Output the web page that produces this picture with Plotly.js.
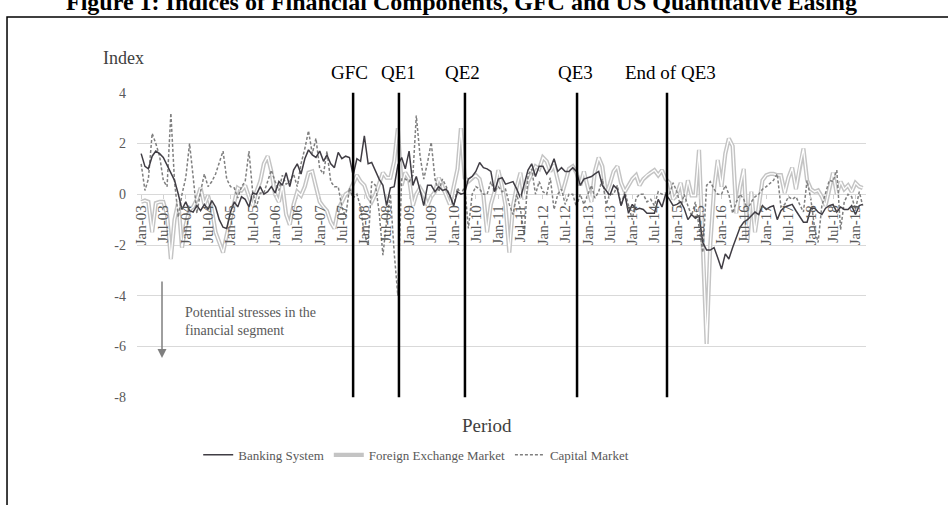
<!DOCTYPE html>
<html>
<head>
<meta charset="utf-8">
<script src="https://cdn.plot.ly/plotly-3.0.1.min.js"></script>
<style>html,body{margin:0;padding:0;background:#fff;}#chart{width:948px;height:505px;}</style>
</head>
<body>
<div id="chart"></div>
<script>
// Monthly observations, Jan-2003 onwards
const startYear = 2003;
const banking = [
  1.6, 1.1, 1.0, 1.5, 1.7, 1.6, 1.45, 1.15, 0.85, 0.55, 0.0, -0.6,
  -0.3, -0.65, -0.7, -0.45, -0.65, -0.4, -0.6, -0.25, -0.5, -1.0, -1.3, -1.35,
  -0.7, -0.3, -0.5, -0.1, -0.2, -0.5, 0.05, 0.0, 0.3, 0.0, 0.1, 0.3,
  0.05, 0.5, 0.35, 0.85, 0.3, 0.95, 1.2, 0.8, 1.4, 1.75, 1.55, 1.45,
  1.7, 1.3, 1.55, 1.2, 1.05, 1.65, 1.4, 1.5, 1.45, 0.75, 1.4, 1.3,
  2.3, 1.2, 1.25, 0.9, 0.6, 0.35, -0.45, 0.25, 0.3, 1.15, 1.45, 1.0,
  1.7, 0.35, 0.7, 0.15, -0.45, 0.35, 0.35, 0.1, 0.3, 0.15, 0.2, -0.05,
  -0.45, 0.1, 0.0, 0.05, 0.6, 0.7, 0.9, 1.25, 1.05, 1.0, 0.9, 0.1,
  0.6, 0.65, 0.4, 0.45, 0.5, 0.2, -0.15, 0.4, 0.95, 1.2, 0.7, 1.1,
  1.1, 0.8, 1.0, 1.4, 0.9, 1.05, 0.9, 0.9, 1.05, 0.9, 0.35, 0.6,
  0.65, 0.7, 0.8, 0.9, 0.35, 0.15, -0.05, 0.35, 0.2, -0.45, 0.0, -0.75,
  -0.4, -0.6, -0.55, -0.6, -0.75, -0.75, -0.75, -0.2, -0.5, 0.0, -0.2, -0.45,
  -0.4, -0.3, -0.55, -1.0, -0.8, -0.95, -0.85, -1.9, -2.2, -2.2, -2.1, -2.5,
  -2.95, -2.35, -2.55, -2.1, -1.7, -1.3, -1.1, -1.0, -0.85, -0.7, -0.8, -0.45,
  -0.6, -0.5, -0.45, -1.0, -0.65, -0.5, -0.45, -0.4, -0.65, -0.9, -1.1, -1.1,
  -0.55, -0.55, -0.7, -0.8, -0.55, -0.45, -0.4, -0.7, -0.5, -0.6, -0.6, -0.45,
  -0.8, -0.45, -0.4
];
const fxMarket = [
  -0.3, -0.25, -0.3, -1.5, -0.35, -0.3, -0.3, -0.8, -2.55, -1.0, -0.3, -2.1,
  -1.2, -0.6, -0.5, -0.2, 0.25, -0.4, -0.05, -0.6, -1.5, -1.9, -2.3, -1.6,
  -0.95, -0.4, 0.25, 0.15, 0.35, -0.1, -0.45, 0.1, 0.5, 1.2, 1.5, 0.9,
  0.0, -0.3, 0.35, -0.8, -1.2, -0.4, 0.1, -0.05, 0.3, 0.85, 0.9, 0.3,
  -0.3, -0.5, -0.65, -1.1, -1.35, -0.6, -0.3, 0.0, 0.1, 0.4, 0.75, 0.5,
  0.35, -0.1, -0.3, 0.0, 0.4, 0.85, 0.65, 0.65, 1.3, 2.6, 0.35, 0.85,
  0.6, -0.45, 0.0, 0.25, 0.0, -0.45, -0.1, 0.1, 0.65, 0.3, -0.1, -0.4,
  0.3, 1.0, 2.6, 0.65, 0.5, 0.65, 0.75, 0.6, -0.05, -1.5, -0.4, 0.1,
  0.95, 0.3, -0.45, -2.3, -0.45, 0.3, 0.85, -0.2, 0.5, 0.8, 1.1, 1.0,
  1.45, 1.3, 0.9, 1.15, 0.5, -0.05, 0.45, 1.0, 1.1, 0.85, 0.35, 0.9,
  0.3, -0.3, 0.9, 1.45, 1.1, 0.0, 0.4, 0.9, 1.1, 0.45, 0.1, 0.35,
  0.6, 0.75, 0.35, 0.6, 0.75, 0.85, 0.95, 0.75, 0.95, 0.6, 0.45, -0.2,
  0.0, 0.45, -0.3, 0.55, -0.05, -0.05, 1.75, -1.9, -5.9, -2.0, 0.2, 1.35,
  0.3, 1.6, 2.2, 1.9, -0.75, 0.3, 1.0, -1.8, 0.1, -1.5, -0.5, 0.55,
  0.75, 0.8, 0.8, 0.75, 0.75, 0.05, 0.65, 1.05, 0.2, 1.1, 1.8, 0.55,
  0.2, 0.1, 0.15, -0.1, -0.45, 0.2, 0.85, 0.0, 0.5, 0.2, 0.35, 0.1,
  0.45, 0.3, 0.25
];
const capitalMarket = [
  1.2, 0.15, 0.6, 2.4, 2.0, 1.5, 0.55, 0.3, 3.2, 0.5, -0.9, 0.0,
  0.65, 2.0, 0.7, -0.75, 0.1, 0.8, 0.3, 0.5, 0.8, 1.2, 1.7, 0.6,
  0.3, 0.25, -0.15, 0.3, 0.5, 1.7, 0.1, -0.5, 0.05, 0.05, 0.5, 0.95,
  0.5, 0.15, 0.75, 0.4, 0.5, 0.8, 0.3, 1.2, 1.8, 2.5, 1.6, 2.2,
  1.0, 0.8, 1.7, 0.5, 0.3, 0.3, -0.5, -0.9, 0.25, -0.15, 0.0, -0.5,
  -1.6, -2.0, 0.5, 0.35, -0.7, -2.4, -1.05, 0.0, -2.3, -4.0, 0.6, 0.6,
  0.5, 0.75, 3.1, 1.5, 0.6, 1.25, 2.05, 0.6, 0.1, 0.6, 0.3, -0.05,
  -0.45, 0.25, 0.0, 0.3, -1.35, 0.0, 0.3, 0.2, 0.0, 0.0, 0.5, 0.1,
  0.3, 0.1, 0.2, -0.4, -0.8, 0.0, -0.6, -1.6, 0.75, 1.0, 0.0, 0.5,
  0.1, 0.0, 0.65, -0.6, 0.0, 0.2, -0.4, 0.0, 0.0, -0.5, 0.0, -0.4,
  0.0, 0.35, -0.15, 0.1, 0.6, -0.4, 0.0, 0.0, 0.35, -0.45, 0.1, -0.5,
  -1.0, -0.15, 0.0, 0.0, -0.3, -0.2, -0.45, 0.1, 0.0, 0.05, 0.0, 0.45,
  0.1, -0.5, 0.0, -0.45, -0.85, -0.3, -1.3, -2.3, 0.35, 0.5, 0.2, 0.0,
  0.0, 0.35, 0.0, -0.75, -0.3, 0.0, -0.2, -0.6, -0.3, -0.1, 0.0, 0.2,
  0.3, 0.45, 0.55, 0.8, -0.5, -0.4, -0.1, -0.2, -0.1, -0.4, -0.7, 0.55,
  -0.2, -1.35, -1.9, -0.45, 0.0, 0.55, 0.5, 0.95, -1.4, -0.3, 0.0, -0.1,
  -0.6, 0.1, -0.45
];
const seriesNames = ['Banking System', 'Foreign Exchange Market', 'Capital Market'];
const eventLabels = ['GFC', 'QE1', 'QE2', 'QE3', 'End of QE3'];
const eventDates = ['2007-10-01', '2008-10-10', '2010-04-03', '2012-10-06', '2014-10-12'];
const yTicks = [-8, -6, -4, -2, 0, 2, 4];

const months = banking.map((_, i) => {
  const y = startYear + Math.floor(i / 12);
  const m = (i % 12) + 1;
  return y + '-' + String(m).padStart(2, '0') + '-01';
});

const FONT = 'Liberation Serif, "Times New Roman", Times, serif';
const yMin = -8.03, yMax = 4.03;

const traces = [
  {x: months, y: fxMarket, type: 'scatter', mode: 'lines', name: seriesNames[1],
   line: {color: '#c4c4c4', width: 4.2}, legendrank: 2, legendgroup: 'fx'},
  {x: months, y: fxMarket, type: 'scatter', mode: 'lines', name: seriesNames[1],
   line: {color: '#ffffff', width: 1.3}, showlegend: false, legendgroup: 'fx'},
  {x: months, y: capitalMarket, type: 'scatter', mode: 'lines', name: seriesNames[2],
   line: {color: '#7f7f7f', width: 1.5, dash: '3px,2px'}, legendrank: 3},
  {x: months, y: banking, type: 'scatter', mode: 'lines', name: seriesNames[0],
   line: {color: '#403d44', width: 1.5}, legendrank: 1}
];

const shapes = eventDates.map(d => ({
  type: 'line', xref: 'x', yref: 'y', x0: d, x1: d, y0: -8, y1: 4,
  line: {color: '#000000', width: 2.5}
}));
shapes.push({type: 'rect', xref: 'paper', yref: 'paper', x0: -0.1783, x1: 1.2, y0: -0.45, y1: 1.245,
  line: {color: '#000000', width: 1.5}, fillcolor: 'rgba(0,0,0,0)', layer: 'below'});

const eventShift = [-4, 0, -2, -2, 3];
const annotations = eventLabels.map((t, i) => ({
  text: t, x: eventDates[i], xref: 'x', yref: 'paper', y: 1.065, yanchor: 'middle',
  xanchor: 'center', xshift: eventShift[i], showarrow: false,
  font: {family: FONT, size: 19, color: '#000000'}
}));
annotations.push(
  {text: '<b>Figure 1: Indices of Financial Components, GFC and US Quantitative Easing</b>',
   xref: 'paper', yref: 'paper', x: 0.4458, y: 1.294, yanchor: 'middle', xanchor: 'center',
   showarrow: false, font: {family: FONT, size: 24, color: '#000000'}},
  {text: 'Index', xref: 'paper', yref: 'paper', x: -0.0192, y: 1.111, xanchor: 'center', yanchor: 'middle',
   showarrow: false, font: {family: FONT, size: 18, color: '#404040'}},
  {text: 'Period', xref: 'paper', yref: 'paper', x: 0.48, y: -0.0915, xanchor: 'center', yanchor: 'middle',
   showarrow: false, font: {family: FONT, size: 19, color: '#404040'}},
  {text: 'Potential stresses in the<br>financial segment', xref: 'paper', yref: 'paper',
   x: 0.0631, y: 0.2516, xanchor: 'left', yanchor: 'middle', align: 'left',
   showarrow: false, font: {family: FONT, size: 14, color: '#595959'}},
  {text: '', xref: 'paper', yref: 'paper', x: 0.0343, y: 0.131, showarrow: true,
   ax: 0, ay: -78, arrowhead: 2, arrowsize: 1.2, arrowwidth: 1.5, arrowcolor: '#7f7f7f'}
);

const layout = {
  width: 948, height: 505,
  margin: {l: 137, r: 82, t: 92, b: 107, pad: 0},
  paper_bgcolor: '#ffffff', plot_bgcolor: '#ffffff',
  font: {family: FONT, color: '#595959', size: 14},
  showlegend: true,
  legend: {orientation: 'h', x: 0.383, xanchor: 'center', y: -0.186, yanchor: 'middle',
    font: {family: FONT, size: 13, color: '#595959'}, bgcolor: 'rgba(0,0,0,0)', itemwidth: 30},
  xaxis: {
    type: 'date', range: ['2002-11-28', '2019-03-28'],
    anchor: 'free', position: (0 - yMin) / (yMax - yMin),
    tickformat: '%b-%y', dtick: 'M6', tick0: '2003-01-01', tickangle: -90,
    tickfont: {family: FONT, size: 15, color: '#595959'},
    showgrid: false, zeroline: false, showline: false,
    ticks: 'outside', ticklen: 4, tickcolor: '#d0d0d0'
  },
  yaxis: {
    range: [yMin, yMax], tickvals: yTicks, ticktext: yTicks.map(String),
    gridcolor: '#d9d9d9', gridwidth: 1, zeroline: false, showline: false,
    tickfont: {family: FONT, size: 14, color: '#595959'}, ticklabelstandoff: 10
  },
  shapes: shapes,
  annotations: annotations
};

Plotly.newPlot('chart', traces, layout, {staticPlot: true, displayModeBar: false});
</script>
</body>
</html>
